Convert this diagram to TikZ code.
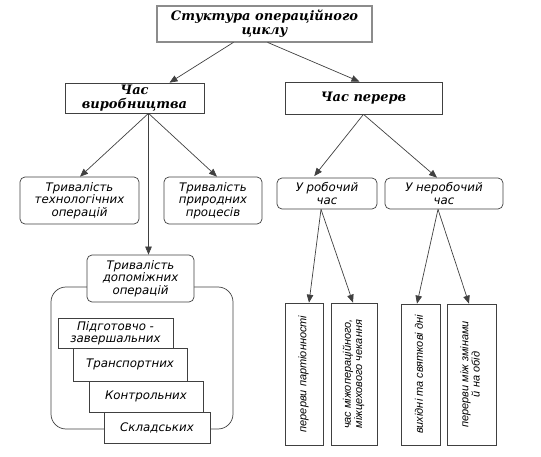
\documentclass[tikz,border=0pt]{standalone}
\usepackage{fontspec}
\setmainfont{DejaVu Sans}
\newfontfamily\headfont{DejaVu Serif}
\newfontfamily\thinfont{Liberation Sans}
\usetikzlibrary{arrows.meta}

\newcommand{\uptext}[1]{\rotatebox{90}{\begin{tabular}{@{}c@{}}#1\end{tabular}}}

\begin{document}
\begin{tikzpicture}[x=1pt, y=-1pt,
	box/.style={draw=black!75, line width=0.7pt, fill=white, inner sep=1pt, align=center, font=\fontsize{11.8}{12.5}\selectfont\itshape},
	headbox/.style={box, font=\headfont\fontsize{13}{14}\selectfont\bfseries\itshape},
	roundbox/.style={box, rounded corners=5pt},
	upbox/.style={box, font=\thinfont\fontsize{11}{10.5}\selectfont\itshape},
	arr/.style={draw=black!75, line width=0.7pt, -{Triangle[length=8pt,width=6.5pt]}}
]
	\useasboundingbox (0,0) rectangle (541,457);

	\node[headbox, draw=black!85, double=black!45, double distance=1.2pt, minimum width=215pt, minimum height=36pt] (cycle) at (264.5,24) {Стуктура операційного\\циклу};

	\node[headbox, minimum width=139pt, minimum height=30pt] (work) at (134.5,98) {Час\\виробництва};
	\node[headbox, minimum width=157pt, minimum height=32pt] (breaks) at (363.5,98) {Час перерв};

	\node[roundbox, minimum width=119pt, minimum height=47pt] (tech) at (79.5,200.5) {Тривалість\\технологічних\\операцій};
	\node[roundbox, minimum width=98pt, minimum height=47pt] (nature) at (213,200.5) {Тривалість\\природних\\процесів};
	\node[roundbox, minimum width=100pt, minimum height=31pt] (oncall) at (327,193.5) {У робочий\\час};
	\node[roundbox, minimum width=118pt, minimum height=31pt] (offcall) at (444,193.5) {У неробочий\\час};

	% допоміжні операції
	\draw[draw=black!75, line width=0.7pt, rounded corners=15pt] (51,287) rectangle (233,429);
	\node[box, minimum width=115pt, minimum height=30pt] (prep) at (115.5,333) {Підготовчо -\\завершальних};
	\node[box, minimum width=114pt, minimum height=33pt] (transp) at (130,364.5) {Транспортних};
	\node[box, minimum width=114pt, minimum height=31pt] (control) at (146,396.5) {Контрольних};
	\node[box, minimum width=106pt, minimum height=31pt] (store) at (157,427.5) {Складських};
	\node[roundbox, minimum width=107pt, minimum height=47pt] (aux) at (140.5,278.5) {Тривалість\\допоміжних\\операцій};

	\node[upbox, minimum width=38pt, minimum height=142pt] (batch) at (304,374) {\uptext{перерви партіонності}};
	\node[upbox, minimum width=46pt, minimum height=142pt] (wait) at (354,374) {\uptext{час міжопераційного,\\міжцехового чекання}};
	\node[upbox, minimum width=39pt, minimum height=141pt] (holiday) at (420.5,374.5) {\uptext{вихідні та святкові дні}};
	\node[upbox, minimum width=49pt, minimum height=141pt] (shift) at (471.5,374.5) {\uptext{перерви між змінами\\й на обід}};

	\coordinate (workout) at ([xshift=14pt]work.south);
	\coordinate (oncallout) at ([xshift=-6pt]oncall.south);
	\coordinate (offcallout) at ([xshift=-6pt]offcall.south);

	\draw[arr] ([xshift=-31pt]cycle.south) -- ([xshift=35pt]work.north);
	\draw[arr] ([xshift=3pt]cycle.south) -- ([xshift=-4pt]breaks.north);
	\draw[arr] (workout) -- ([xshift=0.5pt]tech.north);
	\draw[arr] (workout) -- ([xshift=4pt]nature.north);
	\draw[arr] (workout) -- (workout |- aux.north);
	\draw[arr, shorten >=2pt] (breaks.south) -- ([xshift=-14pt]oncall.north);
	\draw[arr] (breaks.south) -- ([xshift=-7pt]offcall.north);
	\draw[arr] (oncallout) -- ([xshift=5pt]batch.north);
	\draw[arr] (oncallout) -- ([xshift=-1pt]wait.north);
	\draw[arr] (offcallout) -- ([xshift=-3.5pt]holiday.north);
	\draw[arr] (offcallout) -- ([xshift=-2.5pt]shift.north);
\end{tikzpicture}
\end{document}
